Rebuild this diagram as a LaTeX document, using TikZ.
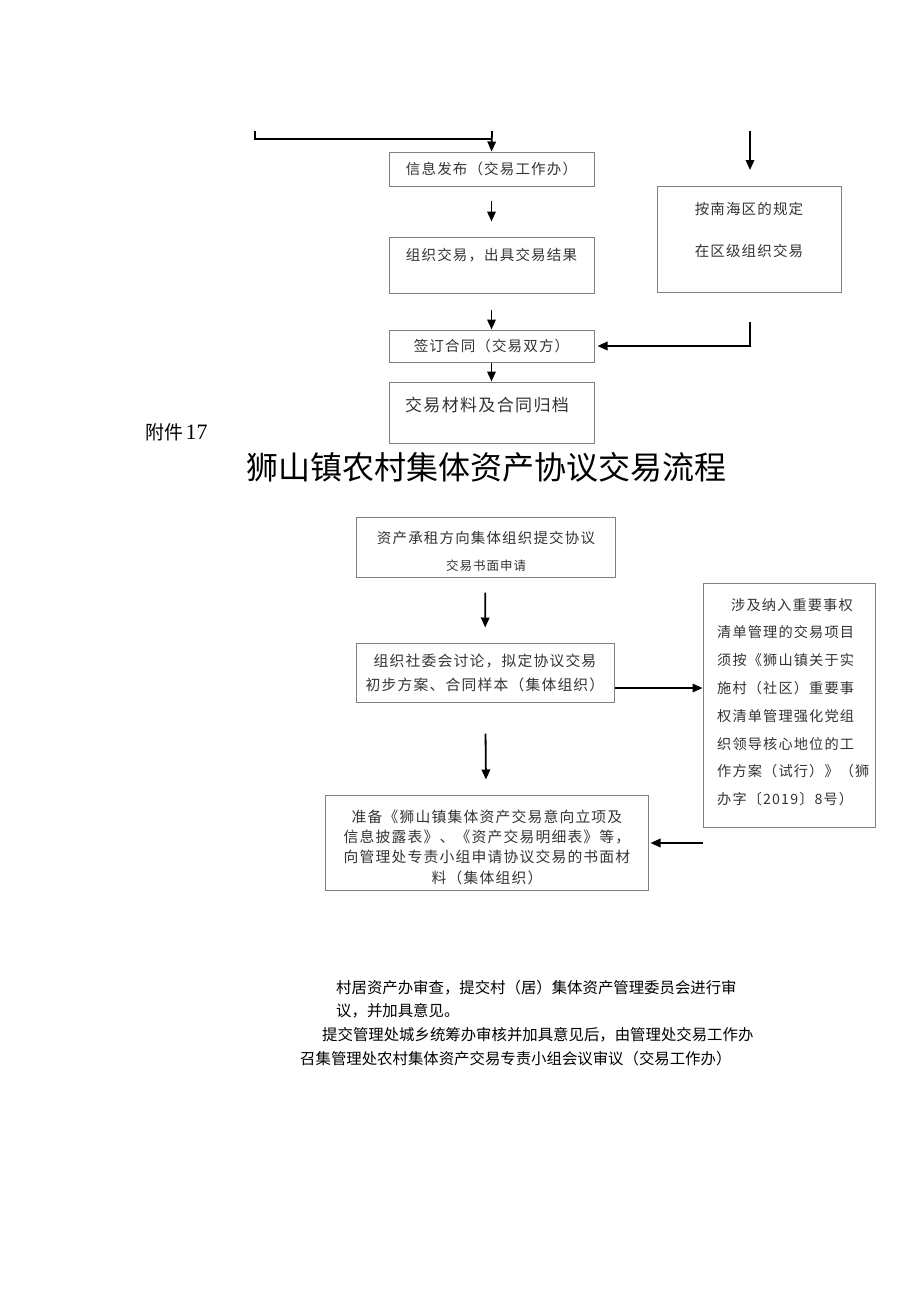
\documentclass[tikz,border=0pt]{standalone}
\usepackage{fontspec}
\setmainfont{Liberation Serif}
\newfontfamily\cjk{Noto Sans CJK SC}
\newfontfamily\cjkbox[LetterSpace=8]{Noto Sans CJK SC}
\usetikzlibrary{arrows.meta}
\begin{document}
\begin{tikzpicture}[x=1pt,y=-1pt,
  box/.style={draw=black!50,line width=1pt,inner sep=0pt,minimum width=#1},
  btxt/.style={inner sep=0pt,text=black!80,font=\cjkbox\fontsize{14.5}{27.8}\selectfont},
  arr/.style={line width=1.8pt,-{Triangle[length=10pt,width=8.5pt]}},
  ln/.style={line width=1.8pt},
  plain/.style={inner sep=0pt,anchor=west,font=\cjk\fontsize{15.4}{18}\selectfont}]
\useasboundingbox (0,0) rectangle (920,1301);
% ---- upper part ----
\node[box=205pt,minimum height=34pt] (b1) at (491.5,169) {};
\node[btxt] (t1) at (b1) {信息发布（交易工作办）};
\node[box=205pt,minimum height=56pt] (b2) at (491.5,265) {};
\node[btxt] (t2) at (491.5,255) {组织交易，出具交易结果};
\node[box=205pt,minimum height=32pt] (b3) at (491.5,346) {};
\node[btxt] (t3) at (b3) {签订合同（交易双方）};
\node[box=205pt,minimum height=61pt] (b4) at (491.5,412.5) {};
\node[btxt,font=\cjkbox\fontsize{17}{20}\selectfont] (t4) at (487,405) {交易材料及合同归档};
\node[box=184pt,minimum height=106pt] (r) at (749,239) {};
\node[btxt] (r1) at (749,209) {按南海区的规定};
\node[btxt] (r2) at (749,251) {在区级组织交易};

\coordinate (tl) at (255,131);
\coordinate (tj) at (492,139);
\coordinate (tt) at (492,131);
\coordinate (rt) at (750,131);
\coordinate (rb) at (750,170);
\coordinate (rs) at (750,322);
\draw[ln] (tl) |- (tj);
\draw[arr] (tt) -- (b1.north);
\draw[arr] (rt) -- (rb);
\draw[arr,shorten <=14pt,shorten >=15pt] (b1) -- (b2);
\draw[arr,shorten <=16pt] (b2) -- (b3);
\draw[arr] (b3) -- (b4);
\draw[arr,shorten >=3pt] (rs) |- (b3.east);

% ---- heading ----
\node[inner sep=0pt,anchor=west] (fj) at (145,432) {{\cjk\fontsize{19}{19}\selectfont 附件} {\fontsize{22}{22}\selectfont 17}};
\node[inner sep=0pt,font=\cjk\fontsize{32}{32}\selectfont] (title) at (486,467) {狮山镇农村集体资产协议交易流程};

% ---- lower flow ----
\node[box=259pt,minimum height=60pt] (A) at (485.5,547) {};
\node[btxt] (A1) at (486,538) {资产承租方向集体组织提交协议};
\node[btxt,font=\cjkbox\fontsize{12.5}{12}\selectfont] (A2) at (486,566) {交易书面申请};
\node[box=258pt,minimum height=59pt] (B) at (485,672.5) {};
\node[btxt,align=center,font=\cjkbox\fontsize{14.8}{24}\selectfont] (Bt) at (B) {组织社委会讨论，拟定协议交易\\初步方案、合同样本（集体组织）};
\node[box=172pt,minimum height=244pt] (C) at (789,705) {};
\node[btxt,align=left,anchor=north west,font=\cjkbox\fontsize{14.2}{27.8}\selectfont] (Ct) at (717,598) {\hspace{14pt}涉及纳入重要事权\\清单管理的交易项目\\须按《狮山镇关于实\\施村（社区）重要事\\权清单管理强化党组\\织领导核心地位的工\\作方案（试行）》（狮\\办字〔2019〕8号）};
\node[box=323pt,minimum height=95pt] (D) at (486.5,842.5) {};
\node[btxt,align=center,font=\cjkbox\fontsize{14.8}{20.3}\selectfont] (Dt) at (487,847) {准备《狮山镇集体资产交易意向立项及\\信息披露表》、《资产交易明细表》等，\\向管理处专责小组申请协议交易的书面材\\料（集体组织）};

\draw[arr,shorten <=15pt,shorten >=15pt] (A) -- (B);
\draw[arr,shorten <=31pt,shorten >=15pt] (B) -- (D);
\draw[arr] (B.east |- 0,688) -- (C.west |- 0,688);
\draw[arr,shorten >=2pt] (C.west |- 0,843) -- (D.east |- 0,843);

% ---- trailing text ----
\node[plain] (p1) at (336,988) {村居资产办审查，提交村（居）集体资产管理委员会进行审};
\node[plain] (p2) at (336,1011) {议，并加具意见。};
\node[plain] (p3) at (322,1035) {提交管理处城乡统筹办审核并加具意见后，由管理处交易工作办};
\node[plain] (p4) at (300,1059) {召集管理处农村集体资产交易专责小组会议审议（交易工作办）};
\end{tikzpicture}
\end{document}
